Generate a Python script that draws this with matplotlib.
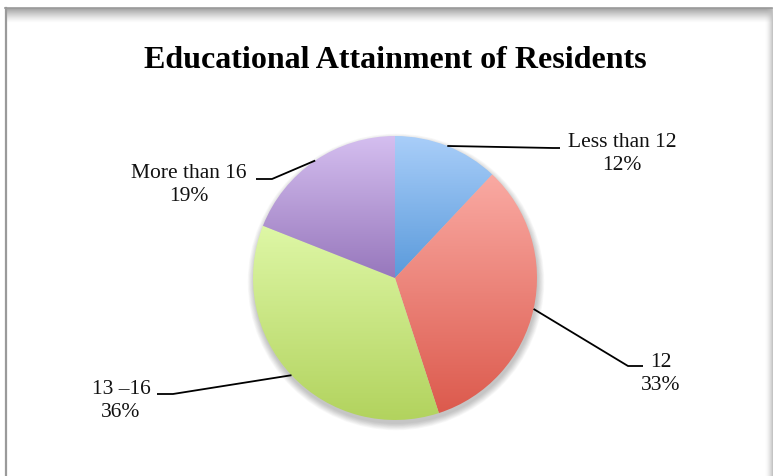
import numpy as np
import matplotlib.pyplot as plt
from matplotlib.colors import LinearSegmentedColormap
from matplotlib.patches import Circle

# data
categories = ['Less than 12', '12', '13 \u201316', 'More than 16']
shares = [12, 33, 36, 19]
title = 'Educational Attainment of Residents'

# slice colours: (top, bottom) of the vertical gradient
grad_colors = [('#A9CEF9', '#5A9ADB'),
               ('#FAAAA3', '#DC5A4D'),
               ('#DEF7A6', '#B2D35E'),
               ('#D5BFF0', '#9777BC')]

# layout in pixels (y grows downward)
W, H = 775, 477
cx, cy, R = 395, 279, 142
label_pos = [(622, 154), (661, 374), (121, 401), (189, 185)]
leader_knee = [(553, 149), (628, 367), (173, 395), (272, 180)]
leader_end = [(560, 149), (643, 367), (157, 395), (256, 180)]

fig = plt.figure(figsize=(W / 100, H / 100), dpi=100)
ax = fig.add_axes([0, 0, 1, 1])

# frame: top bar with soft shadow, left edge
band = np.linspace(1, 0, 64).reshape(-1, 1) ** 1.3
gray = np.zeros((64, 1, 4))
gray[..., :3] = 0.62
gray[..., 3] = band
ax.imshow(gray, extent=(5, 772, 24, 9), origin='upper', aspect='auto', zorder=1)
ax.plot([5, 772], [8.5, 8.5], color='#9A9A9A', lw=1.2, zorder=2)
ax.plot([6, 6], [8.5, H], color='#9A9A9A', lw=1.6, zorder=2)
side = np.zeros((1, 32, 4))
side[..., :3] = 0.75
side[..., 3] = np.linspace(0, 1, 32) ** 2
ax.imshow(side, extent=(764, 773, H, 9), origin='upper', aspect='auto', zorder=1)

# soft shadow under the pie
for k in range(10):
    ax.add_patch(Circle((cx + 1, cy + 4), R + k * 0.7, color='k',
                        alpha=0.025, lw=0, zorder=2))

wedges, _ = ax.pie(shares, center=(cx, cy), radius=R, startangle=-90,
                   counterclock=True, frame=True,
                   wedgeprops=dict(linewidth=0, facecolor='none'))

for w, (c_top, c_bot) in zip(wedges, grad_colors):
    w.set_zorder(3)
    ext = w.get_path().get_extents()
    cmap = LinearSegmentedColormap.from_list('g', [c_top, c_bot])
    grad = np.linspace(0, 1, 256).reshape(-1, 1)
    im = ax.imshow(grad, cmap=cmap, extent=(ext.x0, ext.x1, ext.y1, ext.y0),
                   origin='upper', aspect='auto', zorder=3)
    im.set_clip_path(w)

# leader lines and labels
for w, name, pct, lp, kn, en in zip(wedges, categories, shares, label_pos,
                                    leader_knee, leader_end):
    mid = np.deg2rad((w.theta1 + w.theta2) / 2)
    ex, ey = cx + R * np.cos(mid), cy + R * np.sin(mid)
    ax.plot([ex, kn[0], en[0]], [ey, kn[1], en[1]], color='black',
            lw=1.3, zorder=4, solid_capstyle='butt')
    ax.text(lp[0], lp[1], f'{name}\n{pct}%', ha='center', va='center',
            fontsize=15.5, family='Liberation Serif', linespacing=1.3,
            color='#111111', zorder=5)

ax.text(395, 68, title, ha='center', va='baseline', fontsize=23,
        fontweight='bold', family='Liberation Serif', zorder=5)

ax.set_xlim(0, W)
ax.set_ylim(H, 0)
ax.set_aspect('auto')
ax.axis('off')

fig.savefig('out.png', dpi=100, facecolor='white')
